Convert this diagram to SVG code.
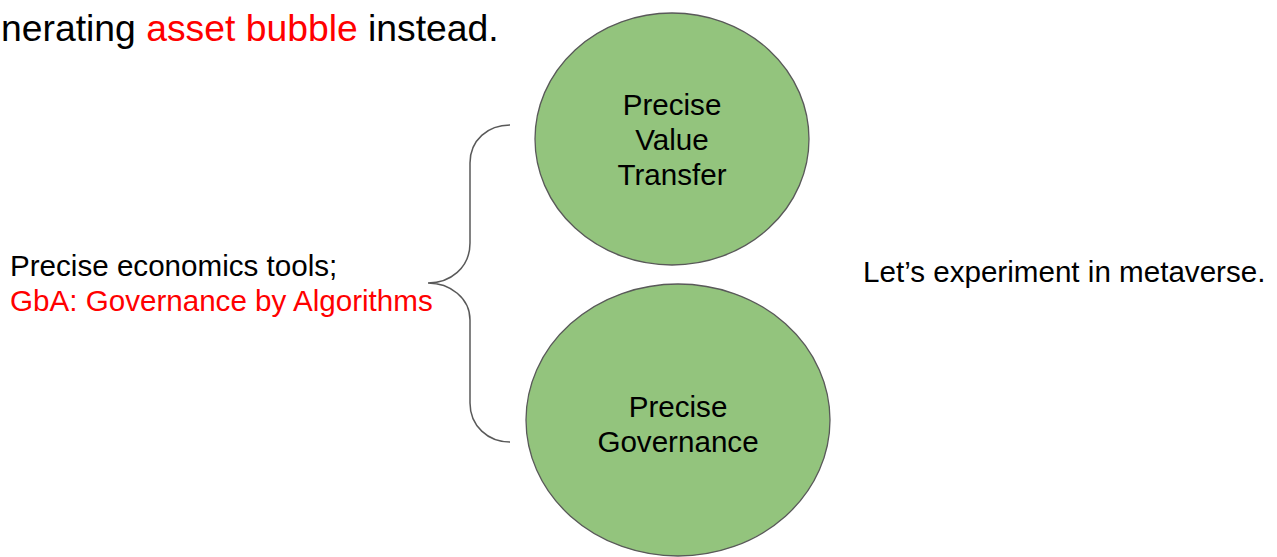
<svg xmlns="http://www.w3.org/2000/svg" width="1277" height="557" viewBox="0 0 1277 557">
<style>
text{font-family:"Liberation Sans",Arial,sans-serif;font-size:29.6px;fill:#000}
.red{fill:#ff0000}
.node{fill:#93c47d;stroke:#595959;stroke-width:1.3}
.brace{fill:none;stroke:#595959;stroke-width:1.5}
.c{text-anchor:middle}
</style>
<rect width="1277" height="557" fill="#ffffff"/>
<g id="header">
<text x="1" y="41" style="font-size:37.3px">nerating <tspan class="red">asset bubble</tspan> instead.</text>
</g>
<g id="node-value-transfer">
<ellipse class="node" cx="672" cy="139" rx="137" ry="126"/>
<text class="c" x="672" y="115">Precise</text>
<text class="c" x="672" y="150">Value</text>
<text class="c" x="672" y="185">Transfer</text>
</g>
<g id="node-governance">
<ellipse class="node" cx="678" cy="420" rx="152" ry="136"/>
<text class="c" x="678" y="417">Precise</text>
<text class="c" x="678" y="452">Governance</text>
</g>
<g id="connectors">
<path class="brace" d="M510,125 C488,125 470,140 470,163 L470,243 C470,268 450,283 428,283 C450,283 470,298 470,320 L470,403 C470,426 488,442 510,442"/>
</g>
<g id="left-label">
<text x="10" y="276">Precise economics tools;</text>
<text class="red" x="10" y="311">GbA: Governance by Algorithms</text>
</g>
<g id="right-label">
<text x="863" y="282">Let’s experiment in metaverse.</text>
</g>
</svg>
